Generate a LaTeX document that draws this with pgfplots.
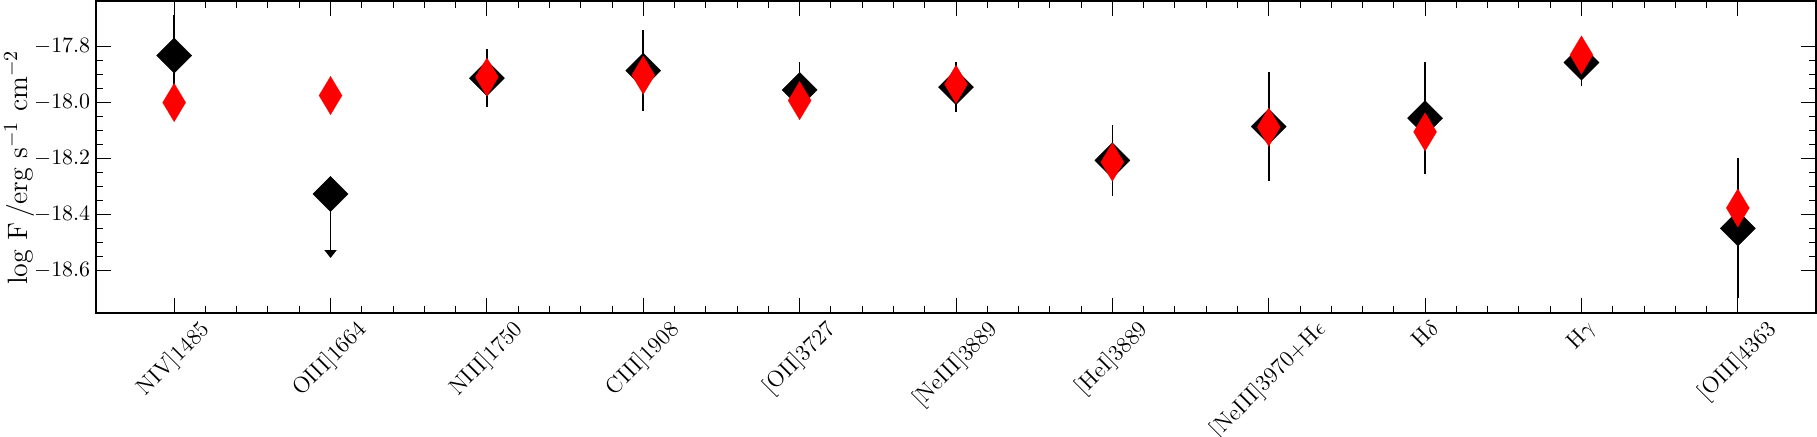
\documentclass[border=0pt]{standalone}
\usepackage{graphicx}
\usepackage{pgfplots}
\usepackage{pgfplotstable}
\pgfplotsset{compat=1.18}
\usetikzlibrary{arrows.meta}
\newcommand{\rl}[1]{\rotatebox{45}{#1}}

\pgfplotstableread{
x y e
0 -17.832 0.146
1 -18.327 0
2 -17.913 0.104
3 -17.886 0.146
4 -17.955 0.100
5 -17.945 0.090
6 -18.207 0.128
7 -18.086 0.195
8 -18.056 0.200
9 -17.857 0.083
10 -18.450 0.250
}\tblblack

\pgfplotstableread{
x y
0 -18.000
1 -17.975
2 -17.909
3 -17.902
4 -17.993
5 -17.935
6 -18.213
7 -18.088
8 -18.105
9 -17.830
10 -18.377
}\tblred

\begin{document}
\begin{tikzpicture}
\begin{axis}[
  name=ax,
  scale only axis,
  width=860pt, height=156pt,
  xmin=-0.5, xmax=10.5,
  ymin=-18.7525, ymax=-17.637,
  xtick={0,1,2,3,4,5,6,7,8,9,10},
  minor x tick num=4,
  xticklabels={\rl{NIV]1485},\rl{OIII]1664},\rl{NIII]1750},\rl{CIII]1908},\rl{[OII]3727},\rl{[NeIII]3889},\rl{[HeI]3889},\rl{[NeIII]3970+H$\epsilon$},\rl{H$\delta$},\rl{H$\gamma$},\rl{[OIII]4363}},
  ytick={-18.6,-18.4,-18.2,-18.0,-17.8},
  minor y tick num=3,
  yticklabel style={/pgf/number format/fixed, /pgf/number format/precision=1, /pgf/number format/fixed zerofill, inner sep=0pt, xshift=-2.7pt, font=\fontsize{11.3}{13}\selectfont},
  xticklabel style={anchor=north, inner sep=0pt, yshift=-2.6pt, font=\fontsize{11.4}{14}\selectfont},
  major tick length=7.5pt,
  minor tick length=3.4pt,
  tick style={black, line width=0.5pt},
  axis line style={line width=0.65pt},
  ylabel={log F\,/erg s$^{-1}$ cm$^{-2}$},
  ylabel style={at={(axis description cs:-0.0355,0.4663)}, anchor=south, inner sep=0pt, font=\fontsize{14}{17}\selectfont},
]
\addplot[only marks, mark=square*, mark size=6.2pt,
  mark options={rotate=45, fill=black, draw=black, line width=0.2pt},
  error bars/.cd, y dir=both, y explicit, error mark=none,
  error bar style={line width=0.85pt, black}]
  table[x=x, y=y, y error=e]{\tblblack};
\addplot[black, line width=0.85pt, -{Triangle[width=6pt,length=4pt]}]
  coordinates {(1,-18.33) (1,-18.556)};
\addplot[only marks, mark=diamond*, mark size=9.6pt,
  mark options={xscale=0.8, fill=red, draw=red, line width=0.1pt}]
  table[x=x, y=y]{\tblred};
\end{axis}
\pgfresetboundingbox
\path[use as bounding box] ([shift={(-48pt,-62pt)}]ax.south west) rectangle ([shift={(0.5pt,0.5pt)}]ax.north east);
\end{tikzpicture}
\end{document}
